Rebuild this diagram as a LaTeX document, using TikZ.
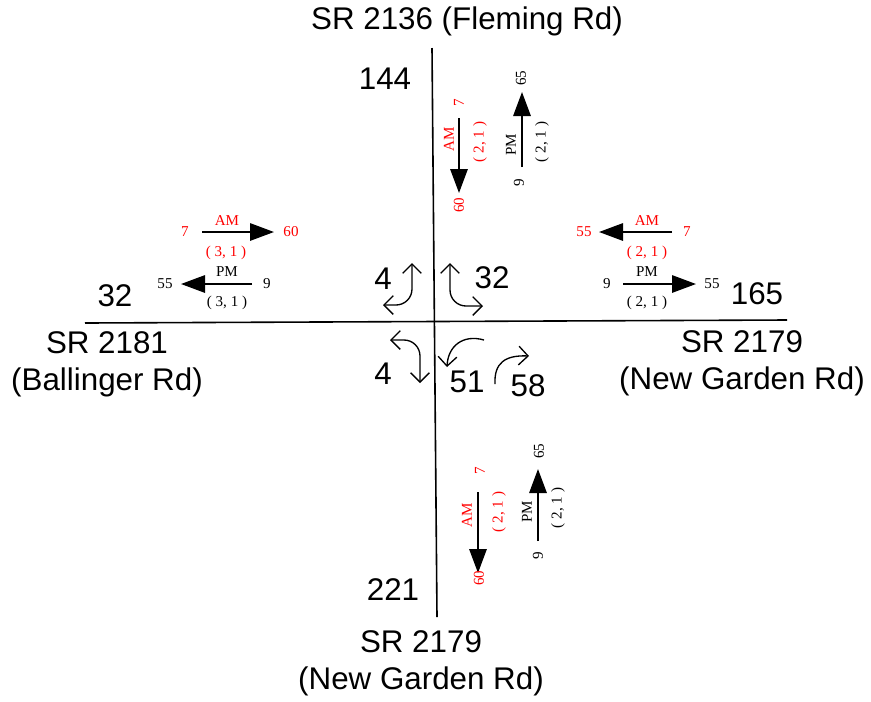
\documentclass[tikz,border=0pt]{standalone}
\usepackage{fontspec}
\setmainfont{Liberation Sans}
\newfontfamily\tnr{Liberation Serif}
\usetikzlibrary{arrows.meta}
\begin{document}
\begin{tikzpicture}[x=0.75pt,y=-0.75pt,
  big/.style={font=\fontsize{23.5}{28}\selectfont, align=center, inner sep=0pt},
  sm/.style={font=\tnr\fontsize{11.3}{13}\selectfont, inner sep=0pt},
  smr/.style={sm, text=red},
  vt/.style={rotate=90},
  road/.style={line width=1.2pt},
  flow/.style={line width=1.5pt, -{Triangle[length=18pt,width=13pt]}},
  turnboth/.style={line width=1pt, rounded corners=12pt, {Straight Barb[length=7pt,width=14pt]}-{Straight Barb[length=7pt,width=14pt]}},
  turnone/.style={line width=1pt, -{Straight Barb[length=7pt,width=14pt]}}]
\useasboundingbox (0,0) rectangle (871,701);
% roads
\coordinate (rn) at (432,48); \coordinate (rs) at (437,617);
\coordinate (rw) at (85,323); \coordinate (re) at (787,320);
\draw[road] (rn) -- (rs);
\draw[road] (rw) -- (re);
% big labels
\node[big] (tn) at (467,21) {SR 2136 (Fleming Rd)};
\node[big] (n144) at (385,79) {144};
\node[big] (n32w) at (115,296) {32};
\node[big] (tw) at (107,364) {SR 2181\\(Ballinger Rd)};
\node[big] (n165) at (757,294) {165};
\node[big] (te) at (742,363) {SR 2179\\(New Garden Rd)};
\node[big] (n221) at (393,590) {221};
\node[big] (ts) at (421,663) {SR 2179\\(New Garden Rd)};
% turn arrows and volumes
\coordinate (nw1) at (412,263); \coordinate (nw2) at (383,305);
\draw[turnboth] (nw1) |- (nw2);
\node[big] (v4a) at (383,279) {4};
\coordinate (ne1) at (450,263); \coordinate (ne2) at (483,306);
\draw[turnboth] (ne1) |- (ne2);
\node[big] (v32) at (492,278) {32};
\coordinate (sw1) at (390,340); \coordinate (sw2) at (420,383);
\draw[turnboth] (sw1) -| (sw2);
\node[big] (v4b) at (383,374) {4};
\coordinate (se1) at (484,340); \coordinate (se2) at (447,367);
\draw[turnone] (se1) .. controls (463,334) and (448,346) .. (se2);
\node[big] (v51) at (467,382) {51};
\coordinate (se3) at (495,384); \coordinate (se4) at (529,356);
\draw[turnone] (se3) .. controls (494,363) and (505,355) .. (se4);
\node[big] (v58) at (528,386) {58};
% north approach
\coordinate (na1) at (459,118); \coordinate (na2) at (459,193);
\draw[flow] (na1) -- (na2);
\node[smr,vt] (naam) at (449,139) {AM};
\node[smr,vt] (na7) at (459,103) {7};
\node[smr,vt] (na60) at (459,205) {60};
\node[smr,vt] (na21) at (480,142) {( 2, 1 )};
\coordinate (np1) at (522,167); \coordinate (np2) at (522,92);
\draw[flow] (np1) -- (np2);
\node[sm,vt] (nppm) at (511,145) {PM};
\node[sm,vt] (np65) at (521,78) {65};
\node[sm,vt] (np9) at (519,183) {9};
\node[sm,vt] (np21) at (542,142) {( 2, 1 )};
% south approach
\coordinate (sa1) at (478,492); \coordinate (sa2) at (478,573);
\draw[flow] (sa1) -- (sa2);
\node[smr,vt] (saam) at (467,515) {AM};
\node[smr,vt] (sa7) at (480,471) {7};
\node[smr,vt] (sa60) at (479,578) {60};
\node[smr,vt] (sa21) at (499,512) {( 2, 1 )};
\coordinate (sp1) at (538,541); \coordinate (sp2) at (538,469);
\draw[flow] (sp1) -- (sp2);
\node[sm,vt] (sppm) at (527,512) {PM};
\node[sm,vt] (sp65) at (539,451) {65};
\node[sm,vt] (sp9) at (538,556) {9};
\node[sm,vt] (sp21) at (558,508) {( 2, 1 )};
% west approach
\coordinate (wa1) at (202,232); \coordinate (wa2) at (274,232);
\draw[flow] (wa1) -- (wa2);
\node[smr] (waam) at (227,221) {AM};
\node[smr] (wa7) at (185,232) {7};
\node[smr] (wa60) at (291,232) {60};
\node[smr] (wa31) at (226,253) {( 3, 1 )};
\coordinate (wp1) at (252,284); \coordinate (wp2) at (181,284);
\draw[flow] (wp1) -- (wp2);
\node[sm] (wppm) at (227,272) {PM};
\node[sm] (wp55) at (165,284) {55};
\node[sm] (wp9) at (267,284) {9};
\node[sm] (wp31) at (227,303) {( 3, 1 )};
% east approach
\coordinate (ea1) at (672,232); \coordinate (ea2) at (599,232);
\draw[flow] (ea1) -- (ea2);
\node[smr] (eaam) at (647,221) {AM};
\node[smr] (ea55) at (584,232) {55};
\node[smr] (ea7) at (687,232) {7};
\node[smr] (ea21) at (647,253) {( 2, 1 )};
\coordinate (ep1) at (623,284); \coordinate (ep2) at (696,284);
\draw[flow] (ep1) -- (ep2);
\node[sm] (eppm) at (647,272) {PM};
\node[sm] (ep9) at (607,284) {9};
\node[sm] (ep55) at (712,284) {55};
\node[sm] (ep21) at (647,303) {( 2, 1 )};
\end{tikzpicture}
\end{document}
